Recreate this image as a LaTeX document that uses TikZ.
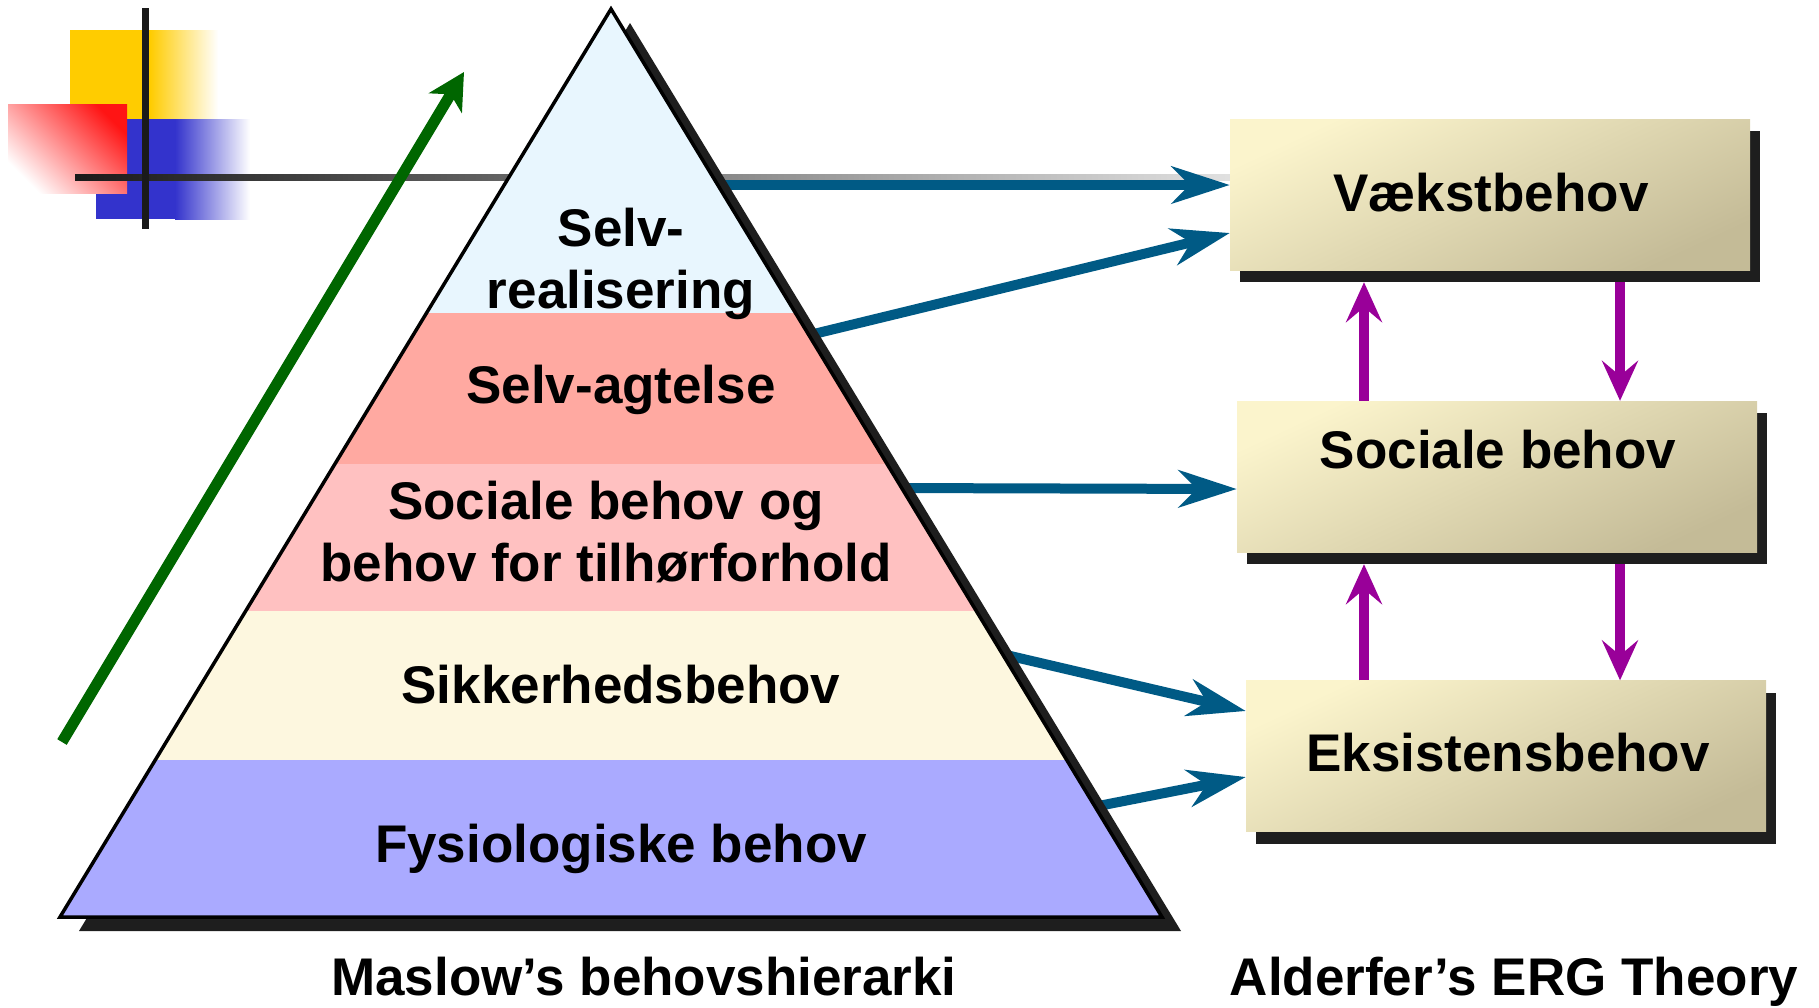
\documentclass[tikz,border=0pt]{standalone}
\usepackage{fontspec}
\setmainfont{Liberation Sans}
\usetikzlibrary{arrows.meta, calc, shadows}

\definecolor{marked}{HTML}{FF1414}
\definecolor{markyellow}{HTML}{FFCC00}
\definecolor{markblue}{HTML}{3333CC}
\definecolor{markdark}{HTML}{1A1A1A}
\definecolor{bandtop}{HTML}{E8F6FE}
\definecolor{bandesteem}{HTML}{FFA9A1}
\definecolor{bandsocial}{HTML}{FFC1C1}
\definecolor{bandsafety}{HTML}{FDF7DF}
\definecolor{bandphys}{HTML}{AAAAFF}
\definecolor{shadowgray}{HTML}{1E1E1E}
\definecolor{boxlight}{HTML}{FBF4CC}
\definecolor{boxdark}{HTML}{C4BB97}
\definecolor{arrowblue}{HTML}{005A85}
\definecolor{ergpurple}{HTML}{990099}
\definecolor{risegreen}{HTML}{006600}

\begin{document}
\begin{tikzpicture}[
        x=1pt, y=-1pt,
        lbl/.style={font=\fontsize{53}{62}\selectfont\bfseries, inner sep=0pt, align=center},
        ergbox/.style={rectangle, minimum width=520pt, minimum height=151pt, inner sep=0pt,
            top color=boxlight, bottom color=boxdark, shading angle=25,
            drop shadow={shadow xshift=10pt, shadow yshift=-12pt, fill=shadowgray, opacity=1}},
        maslowarrow/.style={line width=10pt, draw=arrowblue, -{Stealth[length=58pt, width=37pt, inset=18pt]}},
        ergarrow/.style={line width=10pt, draw=ergpurple, -{Stealth[length=40pt, width=36pt, inset=15pt]}},
        risearrow/.style={line width=11pt, draw=risegreen, -{Stealth[length=36pt, width=38pt, inset=10pt]}}
    ]
        \useasboundingbox (0,0) rectangle (1819,1007);

        % Corner mark
        \fill[markyellow] (70,30) rectangle (150,119);
        \shade[left color=markyellow, right color=white] (150,30) rectangle (218,119);
        \fill[markblue] (96,119) rectangle (175,219);
        \shade[left color=markblue, right color=white] (175,119) rectangle (250,219);
        \shade[top color=marked, bottom color=white, shading angle=-45] (8,104) rectangle (127,193);
        \shade[left color=black!90, right color=black!12] (75,174) rectangle (1230,180);
        \fill[markdark] (142,8) rectangle (149,229);

        % ERG boxes
        \node[ergbox] (vaekst) at (1490,194.5) {};
        \node[ergbox] (sociale) at (1497,476.5) {};
        \node[ergbox] (eksistens) at (1506,756) {};
        \node[lbl, anchor=base] at (1491,211) {Vækstbehov};
        \node[lbl, anchor=base] at (1498,468) {Sociale behov};
        \node[lbl, anchor=base] at (1508,771) {Eksistensbehov};

        % Arrows from the pyramid
        \coordinate (selvout) at (700,185);
        \coordinate (agtout) at (789,340);
        \coordinate (socout) at (890,488);
        \coordinate (sikout) at (989,651);
        \coordinate (fysout) at (1078,810);
        \draw[maslowarrow] (selvout) -- ([yshift=9.5pt]vaekst.west);
        \draw[maslowarrow] (agtout) -- ([yshift=-38.5pt]vaekst.west);
        \draw[maslowarrow] (socout) -- ([yshift=-12.5pt]sociale.west);
        \draw[maslowarrow] (sikout) -- ([yshift=45pt]eksistens.west);
        \draw[maslowarrow] (fysout) -- ([yshift=-21pt]eksistens.west);

        % Pyramid
        \coordinate (apex) at (611,9);
        \coordinate (bl) at (60,917);
        \coordinate (br) at (1162,917);
        \fill[shadowgray] ([shift={(19,14)}]apex) -- ([shift={(19,14)}]bl) -- ([shift={(19,14)}]br) -- cycle;
        \begin{scope}
            \clip (apex) -- (bl) -- (br) -- cycle;
            \fill[bandtop] (0,0) rectangle (1200,313);
            \fill[bandesteem] (0,313) rectangle (1200,464);
            \fill[bandsocial] (0,464) rectangle (1200,611);
            \fill[bandsafety] (0,611) rectangle (1200,760);
            \fill[bandphys] (0,760) rectangle (1200,917);
        \end{scope}
        \draw[line width=3.5pt] (apex) -- (bl) -- (br) -- cycle;

        \node[lbl, anchor=base] (selv) at (621,308) {Selv-\\realisering};
        \node[lbl, anchor=base] (agtelse) at (621,403) {Selv-agtelse};
        \node[lbl, anchor=base] (social) at (606,581) {Sociale behov og\\behov for tilhørforhold};
        \node[lbl, anchor=base] (sikker) at (621,703) {Sikkerhedsbehov};
        \node[lbl, anchor=base] (fysio) at (621,862) {Fysiologiske behov};

        % Rising arrow
        \coordinate (risestart) at (62,742);
        \coordinate (riseend) at (464,72);
        \draw[risearrow] (risestart) -- (riseend);

        % ERG arrows
        \coordinate (upx) at (1364,0);
        \coordinate (downx) at (1620,0);
        \draw[ergarrow] (upx |- sociale.north) -- ([yshift=-12pt]upx |- vaekst.south);
        \draw[ergarrow] ([yshift=-12pt]downx |- vaekst.south) -- (downx |- sociale.north);
        \draw[ergarrow] (upx |- eksistens.north) -- ([yshift=-12pt]upx |- sociale.south);
        \draw[ergarrow] ([yshift=-12pt]downx |- sociale.south) -- (downx |- eksistens.north);

        \node[lbl, anchor=base] (maslow) at (644,995) {Maslow’s behovshierarki};
        \node[lbl, anchor=base] (alderfer) at (1514,995) {Alderfer’s ERG Theory};
    \end{tikzpicture}
\end{document}
